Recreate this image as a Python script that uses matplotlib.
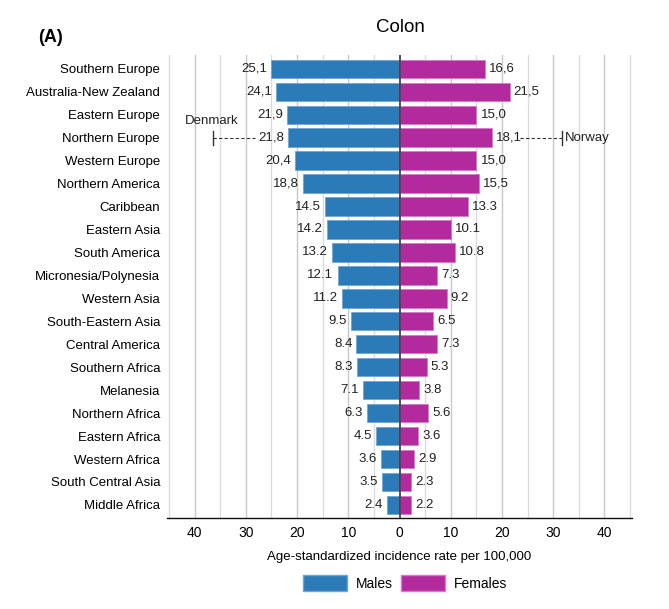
import matplotlib
matplotlib.use("Agg")
import matplotlib.pyplot as plt
from matplotlib.patches import Patch

plt.rcParams['font.family'] = ['Liberation Sans', 'DejaVu Sans']

regions = ["Southern Europe", "Australia-New Zealand", "Eastern Europe", "Northern Europe",
           "Western Europe", "Northern America", "Caribbean", "Eastern Asia", "South America",
           "Micronesia/Polynesia", "Western Asia", "South-Eastern Asia", "Central America",
           "Southern Africa", "Melanesia", "Northern Africa", "Eastern Africa", "Western Africa",
           "South Central Asia", "Middle Africa"]
males = [25.1, 24.1, 21.9, 21.8, 20.4, 18.8, 14.5, 14.2, 13.2, 12.1, 11.2, 9.5, 8.4, 8.3,
         7.1, 6.3, 4.5, 3.6, 3.5, 2.4]
females = [16.6, 21.5, 15.0, 18.1, 15.0, 15.5, 13.3, 10.1, 10.8, 7.3, 9.2, 6.5, 7.3, 5.3,
           3.8, 5.6, 3.6, 2.9, 2.3, 2.2]
male_labels = ["25,1", "24,1", "21,9", "21,8", "20,4", "18,8", "14.5", "14.2", "13.2", "12.1",
               "11.2", "9.5", "8.4", "8.3", "7.1", "6.3", "4.5", "3.6", "3.5", "2.4"]
female_labels = ["16,6", "21,5", "15,0", "18,1", "15,0", "15,5", "13.3", "10.1", "10.8", "7.3",
                 "9.2", "6.5", "7.3", "5.3", "3.8", "5.6", "3.6", "2.9", "2.3", "2.2"]
tick_values = [-40, -30, -20, -10, 0, 10, 20, 30, 40]
tick_labels = ["40", "30", "20", "10", "0", "10", "20", "30", "40"]
denmark_value = 36.4
norway_value = 31.8

blue = "#2b7bb9"
magenta = "#b32a9f"

fig = plt.figure(figsize=(6.69, 6.09), dpi=100)
ax = fig.add_axes([167/669, 1 - 518/609, (632-167)/669, (518-55)/609])

n = len(regions)
y = [n - 1 - i for i in range(n)]

# grid
for v in range(-45, 46, 5):
    if v == 0:
        continue
    col = "#c8c8c8" if v % 10 == 0 else "#dcdcdc"
    ax.axvline(v, color=col, lw=1.0, zorder=0)

ax.barh(y, [-m for m in males], height=0.8, color=blue, edgecolor="#6fa6d6", lw=0.6, zorder=2)
ax.barh(y, females, height=0.8, color=magenta, edgecolor="#d77ac8", lw=0.6, zorder=2)
ax.axvline(0, color="#444444", lw=1.3, zorder=3)

for yi, m, ml in zip(y, males, male_labels):
    ax.annotate(ml, (-m, yi), xytext=(-3, 0), textcoords="offset points",
                ha="right", va="center", fontsize=9.5, color="#222222")
for yi, f, fl in zip(y, females, female_labels):
    ax.annotate(fl, (f, yi), xytext=(3, 0), textcoords="offset points",
                ha="left", va="center", fontsize=9.5, color="#222222")

# Denmark / Norway annotations on Northern Europe row
ne = y[regions.index("Northern Europe")]
ax.plot([-denmark_value, -28.3], [ne, ne], ls=(0, (3, 2)), color="#333333", lw=0.8, zorder=4)
ax.plot([-denmark_value, -denmark_value], [ne - 0.3, ne + 0.3], color="#333333", lw=1.0, zorder=4)
ax.text(-denmark_value - 0.3, ne + 0.72, "Denmark", ha="center", va="center", fontsize=9.5,
        color="#222222")
ax.plot([23.6, norway_value], [ne, ne], ls=(0, (3, 2)), color="#333333", lw=0.8, zorder=4)
ax.plot([norway_value, norway_value], [ne - 0.3, ne + 0.3], color="#333333", lw=1.0, zorder=4)
ax.annotate("Norway", (norway_value, ne), xytext=(2, 0), textcoords="offset points",
            ha="left", va="center", fontsize=9.5, color="#222222")

ax.set_xlim(-45.4, 45.4)
ax.set_ylim(-0.57, n - 1 + 0.6)
ax.set_yticks(y)
ax.set_yticklabels(regions, fontsize=9.5)
ax.set_xticks(tick_values)
ax.set_xticklabels(tick_labels, fontsize=10)
ax.tick_params(axis="x", length=0, pad=6)
ax.tick_params(axis="y", length=0, pad=5)
for s in ["left", "right", "top"]:
    ax.spines[s].set_visible(False)
ax.spines["bottom"].set_color("#111111")
ax.spines["bottom"].set_linewidth(1.0)
ax.set_xlabel("Age-standardized incidence rate per 100,000", fontsize=9.5, labelpad=8)

fig.text(400/669, 1 - 28/609, "Colon", ha="center", va="center", fontsize=13.5)
fig.text(38/669, 1 - 38/609, "(A)", ha="left", va="center", fontsize=13, fontweight="bold")

handles = [Patch(facecolor=blue, edgecolor="#6fa6d6", label="Males"),
           Patch(facecolor=magenta, edgecolor="#d77ac8", label="Females")]
fig.legend(handles=handles, loc="center", bbox_to_anchor=(405/669, 1 - 583/609), ncol=2,
           frameon=False, fontsize=10, handlelength=3.2, handleheight=1.4, columnspacing=0.6,
           handletextpad=0.6)

fig.savefig("out.png", dpi=100)
